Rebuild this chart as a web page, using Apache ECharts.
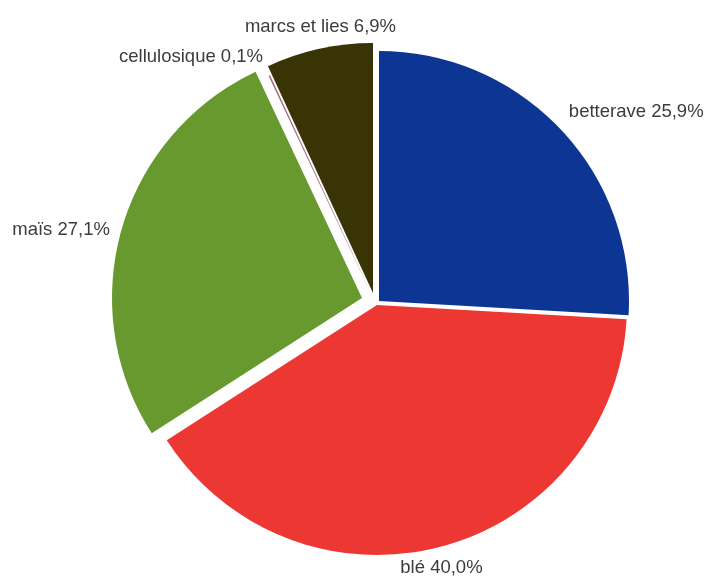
<!DOCTYPE html>
<html>
<head>
<meta charset="utf-8">
<script src="https://cdn.jsdelivr.net/npm/echarts@6/dist/echarts.min.js"></script>
<style>
  html, body { margin: 0; padding: 0; background: #ffffff; }
  #chart { width: 705px; height: 577px; }
</style>
</head>
<body>
<div id="chart"></div>
<script>
// Share of each feedstock (percent), clockwise from 12 o'clock
const categories = ['betterave', 'blé', 'maïs', 'cellulosique', 'marcs et lies'];
const shares = [25.9, 40.0, 27.1, 0.1, 6.9];

// Styling per slice: fill colour, exploded centre, label placement (line lengths)
const sliceColors = ['#0d3594', '#ec3732', '#67992f', '#a0607f', '#383406'];
const sliceCenters = [[379, 301], [377, 305], [362, 298], [375, 302], [373, 293]];
const labelLen = [25, 22, -3.6, 20.4, 22.4];
const labelLen2 = [-15, -51, 10.2, -7.4, -86.6];

function fmt(v) {
  return v.toFixed(1).replace('.', ',') + '%';
}

// One pie per slice so each can be pulled out from the centre on its own;
// every pie holds the full data set so the angles stay shared.
const series = categories.map((name, i) => ({
  type: 'pie',
  silent: true,
  animation: false,
  radius: 250,
  center: sliceCenters[i],
  startAngle: 90,
  clockwise: true,
  avoidLabelOverlap: false,
  emphasis: { disabled: true },
  data: categories.map((n, j) => ({
    name: n,
    value: shares[j],
    itemStyle: {
      color: j === i ? sliceColors[j] : 'rgba(0,0,0,0)',
      borderWidth: 0
    },
    label: { show: j === i },
    labelLine: { show: false, length: labelLen[j], length2: labelLen2[j] }
  })),
  label: {
    position: 'outside',
    formatter: p => p.name + ' ' + fmt(p.value),
    fontFamily: '"Liberation Sans", Arial, sans-serif',
    fontSize: 18.5,
    color: '#3c3c3c',
    width: 220,
    overflow: 'none',
    distanceToLabelLine: 5
  }
}));

const chart = echarts.init(document.getElementById('chart'), null, { renderer: 'canvas' });
chart.setOption({
  backgroundColor: '#ffffff',
  series: series
});
</script>
</body>
</html>
